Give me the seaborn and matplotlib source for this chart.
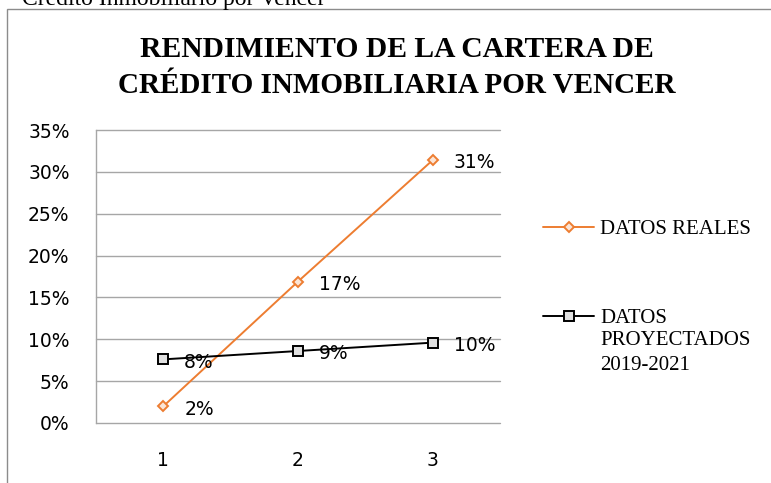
import matplotlib
matplotlib.use("Agg")
import matplotlib.pyplot as plt
import seaborn as sns
import pandas as pd
from matplotlib.patches import Rectangle

# --------------------------------------------------
# Data
# --------------------------------------------------

periodos = [1, 2, 3]
datos_reales = [0.02, 0.169, 0.314]
datos_proyectados = [0.076, 0.086, 0.096]
etiquetas_reales = ["2%", "17%", "31%"]
etiquetas_proyectados = ["8%", "9%", "10%"]
y_ticks = [0, 0.05, 0.10, 0.15, 0.20, 0.25, 0.30, 0.35]

naranja = "#ED7D31"
serif = "Liberation Serif"
sans = "DejaVu Sans"

sns.set_style("white")
plt.rcParams["text.color"] = "black"
plt.rcParams["xtick.color"] = "black"
plt.rcParams["ytick.color"] = "black"


def py(px):
    # pixel row from the top -> figure fraction
    return 1 - px / 483


df = pd.DataFrame({
    "Periodo": periodos * 2,
    "Valor": datos_reales + datos_proyectados,
    "Serie": ["DATOS REALES"] * 3 + ["DATOS"] * 3,
})

fig = plt.figure(figsize=(7.71, 4.83), dpi=100)
ax = fig.add_axes([96 / 771, 60 / 483, 404 / 771, 293 / 483])

# chart frame (cut by the page)
fig.patches.append(Rectangle((7 / 771, -0.2), 1.2, py(9) + 0.2, transform=fig.transFigure,
                             fill=False, edgecolor="#8c8c8c", lw=1.0))

# caption cut off at the top of the page
fig.text(22 / 771, py(5.5), "Crédito Inmobiliario por Vencer", family=serif,
         fontsize=17, va="baseline", ha="left")

# --------------------------------------------------
# Lines
# --------------------------------------------------

sns.lineplot(data=df[df["Serie"] == "DATOS REALES"], x="Periodo", y="Valor", ax=ax,
             color=naranja, lw=1.4, marker="D", markersize=5.5,
             markerfacecolor="#fbe5d6", markeredgecolor=naranja, markeredgewidth=1.4,
             label="DATOS REALES")
sns.lineplot(data=df[df["Serie"] == "DATOS"], x="Periodo", y="Valor", ax=ax,
             color="black", lw=1.4, marker="s", markersize=7,
             markerfacecolor="#e0e0e0", markeredgecolor="black", markeredgewidth=1.4,
             label="DATOS")

for x, y, t in zip(periodos, datos_reales, etiquetas_reales):
    ax.annotate(t, (x, y), xytext=(15, -2), textcoords="offset points",
                ha="left", va="center", family=sans, fontsize=13.5)
for x, y, t in zip(periodos, datos_proyectados, etiquetas_proyectados):
    ax.annotate(t, (x, y), xytext=(15, -2), textcoords="offset points",
                ha="left", va="center", family=sans, fontsize=13.5)

ax.set_xlim(0.5, 3.5)
ax.set_ylim(0, 0.35)
ax.set_xticks(periodos)
ax.set_xticklabels([str(p) for p in periodos], family=sans, fontsize=13.5)
ax.set_yticks(y_ticks)
ax.set_yticklabels([f"{int(round(v * 100))}%" for v in y_ticks], family=sans, fontsize=13.5)
ax.tick_params(axis="y", length=0, pad=19)
ax.tick_params(axis="x", length=0, pad=20)
ax.set_xlabel("")
ax.set_ylabel("")
ax.yaxis.grid(True, color="#a6a6a6", lw=1.0)
ax.set_axisbelow(True)
for gl in ax.get_ygridlines():
    gl.set_clip_on(False)
for s in ["top", "right", "bottom"]:
    ax.spines[s].set_visible(False)
ax.spines["left"].set_color("#a6a6a6")
ax.spines["left"].set_linewidth(1.0)

# --------------------------------------------------
# Title
# --------------------------------------------------

fig.text(397 / 771, py(57), "RENDIMIENTO DE LA CARTERA DE", ha="center", va="baseline",
         family=serif, weight="bold", fontsize=21.3)
fig.text(397 / 771, py(93), "CRÉDITO INMOBILIARIA POR VENCER", ha="center", va="baseline",
         family=serif, weight="bold", fontsize=21)

# --------------------------------------------------
# Legend
# --------------------------------------------------

handles, labels = ax.get_legend_handles_labels()
ax.legend_.remove()
fig.legend(handles, labels, loc="upper left",
           bbox_to_anchor=(543 / 771, py(219.5)), frameon=False,
           prop={"family": serif, "size": 15}, handlelength=2.45, handletextpad=0.29,
           labelspacing=3.35, borderpad=0, borderaxespad=0)
fig.text(600 / 771, py(345), "PROYECTADOS", ha="left", va="baseline",
         family=serif, fontsize=15)
fig.text(600 / 771, py(370), "2019-2021", ha="left", va="baseline",
         family=serif, fontsize=15)

plt.savefig("out.png", dpi=100)
